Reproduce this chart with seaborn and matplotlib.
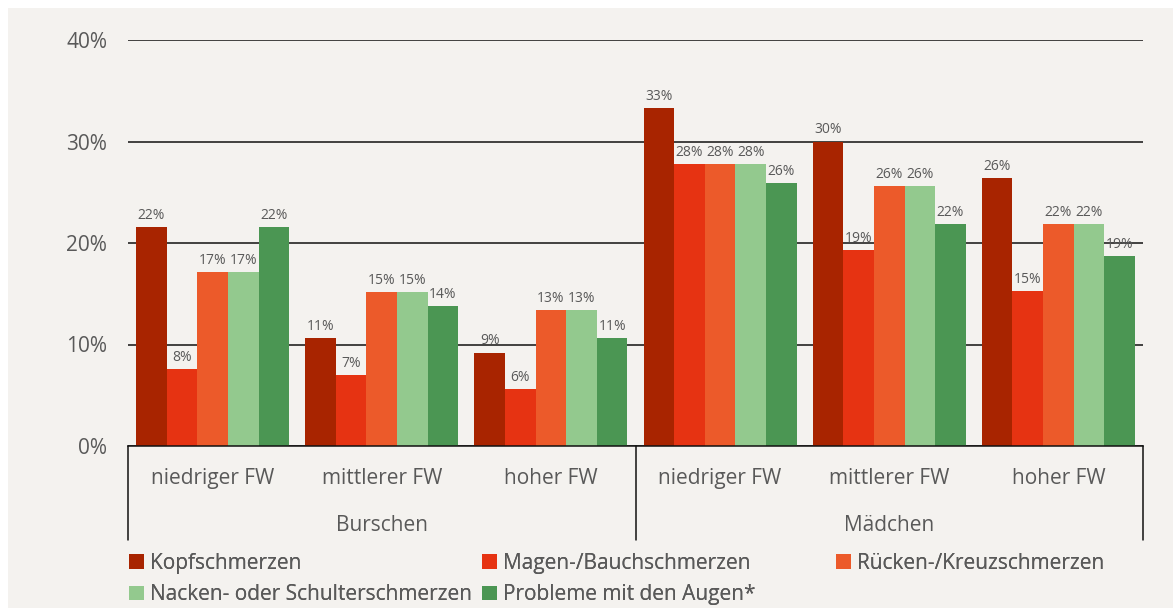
import pandas as pd
import seaborn as sns
import matplotlib.pyplot as plt
from matplotlib.lines import Line2D
from matplotlib.patches import Rectangle


# ---------------------------
# Data
# ---------------------------

levels = ["niedriger FW", "mittlerer FW", "hoher FW",
          "niedriger FW", "mittlerer FW", "hoher FW"]
genders = ["Burschen", "Mädchen"]
symptoms = ["Kopfschmerzen", "Magen-/Bauchschmerzen", "Rücken-/Kreuzschmerzen",
            "Nacken- oder Schulterschmerzen", "Probleme mit den Augen*"]

kopf = [21.6, 10.6, 9.2, 33.3, 30.0, 26.4]
magen = [7.6, 7.0, 5.6, 27.8, 19.3, 15.3]
ruecken = [17.1, 15.2, 13.4, 27.8, 25.6, 21.9]
nacken = [17.1, 15.2, 13.4, 27.8, 25.6, 21.9]
augen = [21.6, 13.8, 10.6, 25.9, 21.9, 18.7]

colors = ["#a82400", "#e63312", "#ec5a2a", "#93c98e", "#4b9653"]
text_grey = "#595959"
bg = "#f4f2ef"


# ---------------------------
# Long table for seaborn
# ---------------------------

pos = [f"{i}" for i in range(len(levels))]
rows = []
for name, vals in zip(symptoms, [kopf, magen, ruecken, nacken, augen]):
    for p, v in zip(pos, vals):
        rows.append({"pos": p, "symptom": name, "value": v})
df = pd.DataFrame(rows)


# ---------------------------
# Plot
# ---------------------------

sns.set_style("white")
plt.rcParams["font.family"] = ["Open Sans", "DejaVu Sans"]

fig = plt.figure(figsize=(11.73, 6.08), dpi=100)
fig.patch.set_facecolor("white")
fig.patches.append(Rectangle((8 / 1173, 0), 1, 1 - 8 / 608, transform=fig.transFigure,
                             facecolor=bg, edgecolor="none", zorder=-10))

ax = fig.add_axes([128 / 1173, 1 - 446 / 608, (1143 - 128) / 1173, (446 - 40) / 608])
ax.set_facecolor(bg)

sns.barplot(data=df, x="pos", y="value", hue="symptom", order=pos,
            hue_order=symptoms, palette=colors, width=0.905, gap=0,
            saturation=1, ax=ax, legend=False)

for c in ax.containers:
    for b in c:
        b.set_linewidth(0)
    ax.bar_label(c, fmt="{:.0f}%", padding=3, fontsize=10, color=text_grey)

ax.set_ylim(0, 40)
ax.set_xlim(-0.5, 5.5)
ax.set_yticks([0, 10, 20, 30, 40])
ax.set_yticklabels(["0%", "10%", "20%", "30%", "40%"], fontsize=15, color=text_grey)
ax.tick_params(axis="y", length=0, pad=15)
ax.set_xticks([])
ax.set_xlabel("")
ax.set_ylabel("")
ax.yaxis.grid(True, color="#111111", linewidth=1.1)
ax.set_axisbelow(True)
for s in ["left", "right", "top"]:
    ax.spines[s].set_visible(False)
ax.spines["bottom"].set_color("#111111")
ax.spines["bottom"].set_linewidth(1.1)

# category labels below the axis
tr = ax.get_xaxis_transform()
for i, lv in enumerate(levels):
    ax.text(i, -0.079, lv, transform=tr, ha="center", va="center",
            fontsize=15, color=text_grey)
for j, g in enumerate(genders):
    ax.text(1 + 3 * j, -0.195, g, transform=tr, ha="center", va="center",
            fontsize=15, color=text_grey)
for x in [-0.5, 2.5, 5.5]:
    ax.add_line(Line2D([x, x], [0, -0.232], transform=tr, color="#111111",
                       linewidth=1.1, clip_on=False))

# legend: three columns placed by hand
handles = [Rectangle((0, 0), 1, 1, facecolor=c, edgecolor="none") for c in colors]
columns = [([0, 3], 129), ([1, 4], 482), ([2], 836)]
for idx, xpx in columns:
    leg = fig.legend([handles[i] for i in idx], [symptoms[i] for i in idx],
                     loc="upper left", bbox_to_anchor=(xpx / 1173, 1 - 553 / 608),
                     frameon=False, fontsize=15, labelcolor=text_grey,
                     handlelength=0.7, handleheight=0.7, handletextpad=0.3,
                     labelspacing=0.5, borderaxespad=0, borderpad=0)
    fig.add_artist(leg)

plt.savefig("out.png", dpi=100, facecolor=fig.get_facecolor())
